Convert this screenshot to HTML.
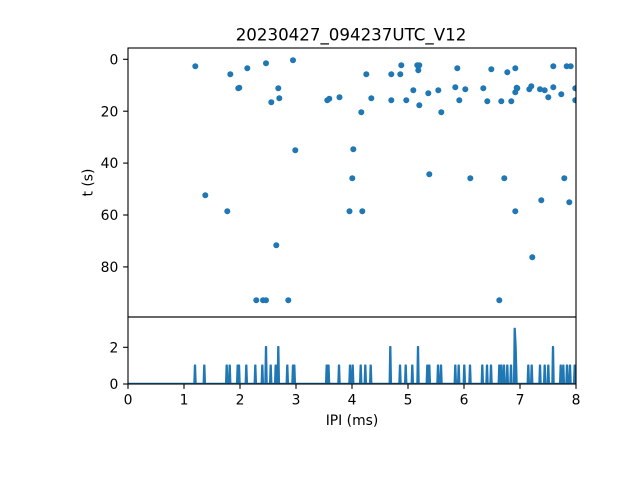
<!DOCTYPE html>
<html>
<head>
<meta charset="utf-8">
<style>
html,body{margin:0;padding:0;background:#fff;}
svg{display:block;}
text{font-family:"DejaVu Sans","Liberation Sans",sans-serif;fill:#000;}
</style>
</head>
<body>
<svg width="640" height="480" viewBox="0 0 640 480" xmlns="http://www.w3.org/2000/svg">
<defs>
<clipPath id="ctop"><rect x="128" y="48" width="448" height="269"/></clipPath>
<clipPath id="cbot"><rect x="128" y="317" width="448" height="67"/></clipPath>
</defs>
<rect width="640" height="480" fill="#fff"/>
<text x="351" y="40.5" font-size="16.67" text-anchor="middle">20230427_094237UTC_V12</text>
<g clip-path="url(#ctop)" fill="#1f77b4">
<circle cx="195.3" cy="66.3" r="3"/>
<circle cx="230.3" cy="74.3" r="3"/>
<circle cx="247.3" cy="68.3" r="3"/>
<circle cx="266" cy="63.3" r="3"/>
<circle cx="293" cy="60.3" r="3"/>
<circle cx="238.3" cy="88.3" r="3"/>
<circle cx="239.3" cy="87.7" r="3"/>
<circle cx="278.3" cy="88.3" r="3"/>
<circle cx="279.3" cy="98.3" r="3"/>
<circle cx="271.3" cy="102.3" r="3"/>
<circle cx="327.3" cy="100.3" r="3"/>
<circle cx="329.3" cy="98.7" r="3"/>
<circle cx="339.5" cy="97.3" r="3"/>
<circle cx="295.3" cy="150.3" r="3"/>
<circle cx="366.3" cy="74.3" r="3"/>
<circle cx="371.3" cy="98.3" r="3"/>
<circle cx="361.3" cy="112.3" r="3"/>
<circle cx="353.3" cy="149.3" r="3"/>
<circle cx="352.3" cy="178.3" r="3"/>
<circle cx="391.3" cy="74.3" r="3"/>
<circle cx="400.3" cy="74.3" r="3"/>
<circle cx="401.3" cy="65.3" r="3"/>
<circle cx="391.3" cy="100.3" r="3"/>
<circle cx="406.3" cy="100.3" r="3"/>
<circle cx="413.3" cy="90.3" r="3"/>
<circle cx="417.3" cy="65.3" r="3"/>
<circle cx="419.3" cy="65.3" r="3"/>
<circle cx="418.3" cy="70.3" r="3"/>
<circle cx="419.3" cy="105.3" r="3"/>
<circle cx="428.3" cy="93.3" r="3"/>
<circle cx="429.3" cy="174.3" r="3"/>
<circle cx="438.3" cy="90.3" r="3"/>
<circle cx="441.3" cy="112.3" r="3"/>
<circle cx="455.3" cy="87.3" r="3"/>
<circle cx="457.3" cy="68.3" r="3"/>
<circle cx="459.3" cy="100.3" r="3"/>
<circle cx="465.3" cy="89.3" r="3"/>
<circle cx="470.3" cy="178.3" r="3"/>
<circle cx="483.3" cy="88.3" r="3"/>
<circle cx="491.3" cy="69.3" r="3"/>
<circle cx="487.3" cy="101.3" r="3"/>
<circle cx="501.3" cy="101.3" r="3"/>
<circle cx="504.3" cy="178.3" r="3"/>
<circle cx="507.3" cy="72.3" r="3"/>
<circle cx="511.3" cy="101.3" r="3"/>
<circle cx="515.3" cy="68.3" r="3"/>
<circle cx="515.3" cy="92.3" r="3"/>
<circle cx="516.7" cy="87.7" r="3"/>
<circle cx="517.3" cy="88.3" r="3"/>
<circle cx="529.3" cy="89.3" r="3"/>
<circle cx="531.3" cy="86.3" r="3"/>
<circle cx="540" cy="89.3" r="3"/>
<circle cx="544.7" cy="90.3" r="3"/>
<circle cx="548.3" cy="97.3" r="3"/>
<circle cx="553.3" cy="66.3" r="3"/>
<circle cx="553.3" cy="87.3" r="3"/>
<circle cx="561.3" cy="94.3" r="3"/>
<circle cx="566.7" cy="66.3" r="3"/>
<circle cx="570.7" cy="66.3" r="3"/>
<circle cx="564.3" cy="178.3" r="3"/>
<circle cx="575.3" cy="88.3" r="3"/>
<circle cx="575.3" cy="100.3" r="3"/>
<circle cx="205.3" cy="195.3" r="3"/>
<circle cx="227.3" cy="211.3" r="3"/>
<circle cx="276.3" cy="245.3" r="3"/>
<circle cx="256.3" cy="300.3" r="3"/>
<circle cx="263" cy="300.3" r="3"/>
<circle cx="266" cy="300.3" r="3"/>
<circle cx="288.3" cy="300.3" r="3"/>
<circle cx="349.5" cy="211.3" r="3"/>
<circle cx="362.3" cy="211.3" r="3"/>
<circle cx="515.3" cy="211.3" r="3"/>
<circle cx="541.3" cy="200.3" r="3"/>
<circle cx="569.3" cy="202.3" r="3"/>
<circle cx="532.3" cy="257.3" r="3"/>
<circle cx="499.3" cy="300.3" r="3"/>
</g>
<g clip-path="url(#cbot)" stroke="#1f77b4" stroke-width="1.5" stroke-linejoin="round">
<line x1="128" y1="383.5" x2="576" y2="383.5" fill="none"/>
<path fill="#1f77b4" d="M194,383.5L194.6,365.2L195.4,365.2L196,383.5Z
M203.3,383.5L203.9,365.2L204.7,365.2L205.3,383.5Z
M225.7,383.5L226.3,365.2L227.1,365.2L227.7,383.5Z
M228.7,383.5L229.3,365.2L230.1,365.2L230.7,383.5Z
M236.7,383.5L237.3,365.2L238.1,365.2L238.7,383.5Z
M238,383.5L238.6,365.2L239.4,365.2L240,383.5Z
M245.3,383.5L245.9,365.2L246.7,365.2L247.3,383.5Z
M254.3,383.5L254.9,365.2L255.7,365.2L256.3,383.5Z
M261.3,383.5L261.9,365.2L262.7,365.2L263.3,383.5Z
M265,383.5L265.6,346.8L266.4,346.8L267,383.5Z
M269.7,383.5L270.3,365.2L271.1,365.2L271.7,383.5Z
M274.7,383.5L275.3,365.2L276.1,365.2L276.7,383.5Z
M277.3,383.5L277.9,346.8L278.7,346.8L279.3,383.5Z
M286.3,383.5L286.9,365.2L287.7,365.2L288.3,383.5Z
M292,383.5L292.6,365.2L293.4,365.2L294,383.5Z
M293.3,383.5L293.9,365.2L294.7,365.2L295.3,383.5Z
M325.7,383.5L326.3,365.2L327.1,365.2L327.7,383.5Z
M327.5,383.5L328.1,365.2L328.9,365.2L329.5,383.5Z
M338,383.5L338.6,365.2L339.4,365.2L340,383.5Z
M349,383.5L349.6,365.2L350.4,365.2L351,383.5Z
M351.7,383.5L352.3,365.2L353.1,365.2L353.7,383.5Z
M359.7,383.5L360.3,365.2L361.1,365.2L361.7,383.5Z
M364.3,383.5L364.9,365.2L365.7,365.2L366.3,383.5Z
M369.7,383.5L370.3,365.2L371.1,365.2L371.7,383.5Z
M389.3,383.5L389.9,346.8L390.7,346.8L391.3,383.5Z
M399,383.5L399.6,365.2L400.4,365.2L401,383.5Z
M404.7,383.5L405.3,365.2L406.1,365.2L406.7,383.5Z
M411.3,383.5L411.9,365.2L412.7,365.2L413.3,383.5Z
M417,383.5L417.6,346.8L418.4,346.8L419,383.5Z
M426.3,383.5L426.9,365.2L427.7,365.2L428.3,383.5Z
M428.3,383.5L428.9,365.2L429.7,365.2L430.3,383.5Z
M437,383.5L437.6,365.2L438.4,365.2L439,383.5Z
M440,383.5L440.6,365.2L441.4,365.2L442,383.5Z
M454.3,383.5L454.9,365.2L455.7,365.2L456.3,383.5Z
M457.7,383.5L458.3,365.2L459.1,365.2L459.7,383.5Z
M463.3,383.5L463.9,365.2L464.7,365.2L465.3,383.5Z
M469,383.5L469.6,365.2L470.4,365.2L471,383.5Z
M481.3,383.5L481.9,365.2L482.7,365.2L483.3,383.5Z
M486,383.5L486.6,365.2L487.4,365.2L488,383.5Z
M490,383.5L490.6,365.2L491.4,365.2L492,383.5Z
M498.3,383.5L498.9,365.2L499.7,365.2L500.3,383.5Z
M500.3,383.5L500.9,365.2L501.7,365.2L502.3,383.5Z
M503,383.5L503.6,365.2L504.4,365.2L505,383.5Z
M506.3,383.5L506.9,365.2L507.7,365.2L508.3,383.5Z
M510,383.5L510.6,365.2L511.4,365.2L512,383.5Z
M513.7,383.5L514.3,328.5L515.1,328.5L516,346.8L517,383.5Z
M527.3,383.5L527.9,365.2L528.7,365.2L529.3,383.5Z
M530.7,383.5L531.3,365.2L532.1,365.2L532.7,383.5Z
M539,383.5L539.6,365.2L540.4,365.2L541,383.5Z
M543.7,383.5L544.3,365.2L545.1,365.2L545.7,383.5Z
M547.3,383.5L547.9,365.2L548.7,365.2L549.3,383.5Z
M552,383.5L552.6,346.8L553.4,346.8L554,383.5Z
M559.7,383.5L560.3,365.2L561.1,365.2L561.7,383.5Z
M562.3,383.5L562.9,365.2L563.7,365.2L564.3,383.5Z
M566,383.5L566.6,365.2L567.4,365.2L568,383.5Z
M569,383.5L569.6,365.2L570.4,365.2L571,383.5Z
M573.7,383.5L574.3,365.2L575.1,365.2L575.7,383.5Z"/>
</g>
<g fill="none" stroke="#000" stroke-width="1.1">
<rect x="128" y="48" width="448" height="269"/>
<rect x="128" y="317" width="448" height="67"/>
</g>
<g stroke="#000" stroke-width="1.1">
<line x1="123.1" y1="59.3" x2="128" y2="59.3"/>
<line x1="123.1" y1="111.2" x2="128" y2="111.2"/>
<line x1="123.1" y1="163.1" x2="128" y2="163.1"/>
<line x1="123.1" y1="215" x2="128" y2="215"/>
<line x1="123.1" y1="266.9" x2="128" y2="266.9"/>
<line x1="123.1" y1="347.3" x2="128" y2="347.3"/>
<line x1="123.1" y1="384" x2="128" y2="384"/>
<line x1="128" y1="384" x2="128" y2="388.9"/>
<line x1="184" y1="384" x2="184" y2="388.9"/>
<line x1="240" y1="384" x2="240" y2="388.9"/>
<line x1="296" y1="384" x2="296" y2="388.9"/>
<line x1="352" y1="384" x2="352" y2="388.9"/>
<line x1="408" y1="384" x2="408" y2="388.9"/>
<line x1="464" y1="384" x2="464" y2="388.9"/>
<line x1="520" y1="384" x2="520" y2="388.9"/>
<line x1="576" y1="384" x2="576" y2="388.9"/>
</g>
<g font-size="13.89">
<g text-anchor="end">
<text x="118.3" y="64.4">0</text>
<text x="118.3" y="116.3">20</text>
<text x="118.3" y="168.2">40</text>
<text x="118.3" y="220.1">60</text>
<text x="118.3" y="272">80</text>
<text x="118.3" y="352.4">2</text>
<text x="118.3" y="389.1">0</text>
</g>
<g text-anchor="middle">
<text x="128" y="404.5">0</text>
<text x="184" y="404.5">1</text>
<text x="240" y="404.5">2</text>
<text x="296" y="404.5">3</text>
<text x="352" y="404.5">4</text>
<text x="408" y="404.5">5</text>
<text x="464" y="404.5">6</text>
<text x="520" y="404.5">7</text>
<text x="576" y="404.5">8</text>
<text x="352" y="425">IPI (ms)</text>
<text transform="translate(92.5,182.5) rotate(-90)">t (s)</text>
</g>
</g>
</svg>
</body>
</html>
